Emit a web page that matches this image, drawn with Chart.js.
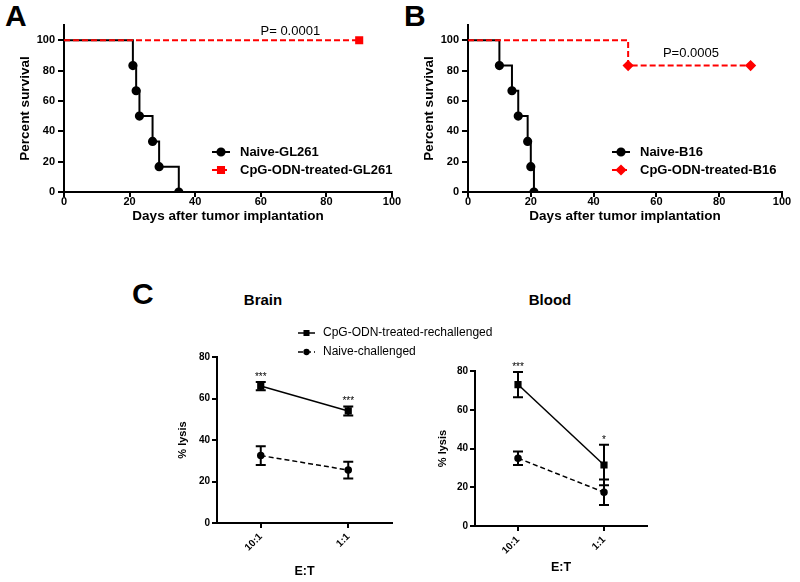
<!DOCTYPE html>
<html>
<head>
<meta charset="utf-8">
<script src="https://cdn.jsdelivr.net/npm/chart.js@4.4.1/dist/chart.umd.min.js"></script>
<style>
body { margin: 0; background: #fff; }
#page { position: relative; width: 800px; height: 582px; overflow: hidden; font-family: "Liberation Sans", Arial, sans-serif; }
canvas { position: absolute; }
.tag { position: absolute; font-weight: bold; font-size: 30px; line-height: 1; }
.ttl { position: absolute; width: 100px; text-align: center; font-weight: bold; font-size: 15px; line-height: 1; }
</style>
</head>
<body>
<div id="page">
  <div class="tag" style="left:5px;top:1px">A</div>
  <div class="tag" style="left:404px;top:1px">B</div>
  <div class="tag" style="left:132px;top:279px">C</div>
  <div class="ttl" style="left:213px;top:292px">Brain</div>
  <div class="ttl" style="left:500px;top:292px">Blood</div>
  <canvas id="chartA" width="410" height="240" style="left:0;top:0"></canvas>
  <canvas id="chartB" width="396" height="240" style="left:404px;top:0"></canvas>
  <canvas id="chartBrain" width="400" height="292" style="left:130px;top:290px"></canvas>
  <canvas id="chartBlood" width="270" height="292" style="left:390px;top:290px"></canvas>
</div>
<script>
// survival, panel A (GL261)
var glNaiveDays = [0, 21, 22, 23, 27, 29, 35];
var glNaive     = [100, 83.3, 66.7, 50, 33.3, 16.7, 0];
var glCpgDays   = [0, 90];
var glCpg       = [100, 100];
// survival, panel B (B16)
var b16NaiveDays = [0, 10, 14, 16, 19, 20, 21];
var b16Naive     = [100, 83.3, 66.7, 50, 33.3, 16.7, 0];
var b16CpgDays   = [0, 51, 90];
var b16Cpg       = [100, 83.3, 83.3];
// lysis, panel C
var ratios = ["10:1", "1:1"];
var brainCpg = [66, 54],   brainCpgErr = [2, 2.2];
var brainNaive = [32.5, 25.5], brainNaiveErr = [4.5, 4];
var bloodCpg = [73, 31.5], bloodCpgErr = [6.5, 10.5];
var bloodNaive = [35, 17.4], bloodNaiveErr = [3.5, 6.6];
var brainStars = ["***", "***"];
var bloodStars = ["***", "*"];

Chart.defaults.font.family = "'Liberation Sans', Arial, sans-serif";
Chart.defaults.color = "#000";

function pts(xs, ys) {
    return xs.map(function (x, i) { return { x: x, y: ys[i] }; });
}

// error bars, stars, free notes and an inside key
var extras = {
    id: "extras",
    afterDatasetsDraw: function (chart, args, opts) {
        var ctx = chart.ctx, ys = chart.scales.y, xs = chart.scales.x;
        ctx.save();
        chart.data.datasets.forEach(function (ds, di) {
            if (!ds.errors) return;
            var meta = chart.getDatasetMeta(di);
            ctx.strokeStyle = "#000";
            ctx.lineWidth = 2;
            ctx.setLineDash([]);
            meta.data.forEach(function (p, i) {
                var top = ys.getPixelForValue(ds.data[i] + ds.errors[i]),
                    bot = ys.getPixelForValue(ds.data[i] - ds.errors[i]);
                ctx.beginPath();
                ctx.moveTo(p.x, top); ctx.lineTo(p.x, bot);
                ctx.moveTo(p.x - 5, top); ctx.lineTo(p.x + 5, top);
                ctx.moveTo(p.x - 5, bot); ctx.lineTo(p.x + 5, bot);
                ctx.stroke();
                if (ds.stars) {
                    ctx.fillStyle = "#000";
                    ctx.font = "10px 'Liberation Sans', Arial";
                    ctx.textAlign = "center";
                    ctx.textBaseline = "alphabetic";
                    ctx.fillText(ds.stars[i], p.x, top - 2);
                }
            });
        });
        (opts.notes || []).forEach(function (n) {
            ctx.fillStyle = "#000";
            ctx.font = n.font;
            ctx.textAlign = "center";
            ctx.textBaseline = "middle";
            ctx.fillText(n.text, xs.getPixelForValue(n.x), ys.getPixelForValue(n.y));
        });
        var k = opts.key;
        if (k) {
            chart.data.datasets.forEach(function (ds, di) {
                var meta = chart.getDatasetMeta(di),
                    po = meta.data[meta.data.length - 1].options,
                    cy = k.y + di * k.dy;
                ctx.strokeStyle = ds.borderColor;
                ctx.lineWidth = ds.borderWidth;
                ctx.setLineDash(ds.borderDash || []);
                ctx.beginPath();
                ctx.moveTo(k.x, cy); ctx.lineTo(k.x + k.len, cy);
                ctx.stroke();
                ctx.setLineDash([]);
                ctx.fillStyle = po.backgroundColor;
                ctx.strokeStyle = po.borderColor;
                Chart.helpers.drawPoint(ctx, { pointStyle: po.pointStyle, radius: po.radius * k.shrink, rotation: 0, borderWidth: 1 }, k.x + k.len / 2, cy);
                ctx.fillStyle = "#000";
                ctx.font = k.font;
                ctx.textAlign = "left";
                ctx.textBaseline = "middle";
                ctx.fillText(ds.label, k.x + k.len + k.gap, cy);
            });
        }
        ctx.restore();
    }
};

function survivalScales() {
    return {
        x: {
            type: "linear", min: 0, max: 100,
            ticks: { stepSize: 20, font: { size: 11, weight: "bold" }, padding: -2 },
            grid: { drawOnChartArea: false, color: "#000", lineWidth: 2, tickLength: 5 },
            border: { color: "#000", width: 2 },
            title: { display: true, text: "Days after tumor implantation", font: { size: 13.5, weight: "bold" }, padding: { top: 0, bottom: 16 } },
            afterFit: function (s) { s.height = 48; }
        },
        y: {
            min: 0, max: 110,
            ticks: { stepSize: 20, includeBounds: false, font: { size: 11, weight: "bold" }, padding: 3 },
            grid: { drawOnChartArea: false, color: "#000", lineWidth: 2, tickLength: 6 },
            border: { color: "#000", width: 2 },
            title: { display: true, text: "Percent survival", font: { size: 13.5, weight: "bold" }, padding: { top: 17, bottom: 0 } },
            afterFit: function (s) { s.width = 64; }
        }
    };
}

function skipFirst(r) {
    return function (c) { return c.dataIndex === 0 ? 0 : r; };
}

new Chart(document.getElementById("chartA"), {
    type: "line",
    data: {
        datasets: [{
            label: "Naive-GL261",
            data: pts(glNaiveDays, glNaive),
            stepped: true, order: 1,
            borderColor: "#000", borderWidth: 2,
            pointStyle: "circle", pointRadius: skipFirst(3.6),
            pointBackgroundColor: "#000", pointBorderColor: "#000"
        }, {
            label: "CpG-ODN-treated-GL261",
            data: pts(glCpgDays, glCpg),
            stepped: true, order: 0,
            borderColor: "#ff0000", borderWidth: 2, borderDash: [6, 3],
            pointStyle: "rect", pointRadius: skipFirst(4.3),
            pointBackgroundColor: "#ff0000", pointBorderColor: "#ff0000"
        }]
    },
    options: {
        responsive: false, animation: false,
        layout: { padding: { top: 25, right: 18, left: 0, bottom: 0 } },
        scales: survivalScales(),
        plugins: {
            legend: { display: false }, tooltip: { enabled: false },
            extras: {
                notes: [{ text: "P= 0.0001", x: 69, y: 106, font: "13px 'Liberation Sans', Arial" }],
                key: { x: 212, y: 152, dy: 18, len: 18, gap: 10, shrink: 1, font: "bold 13px 'Liberation Sans', Arial" }
            }
        }
    },
    plugins: [extras]
});

new Chart(document.getElementById("chartB"), {
    type: "line",
    data: {
        datasets: [{
            label: "Naive-B16",
            data: pts(b16NaiveDays, b16Naive),
            stepped: true, order: 1,
            borderColor: "#000", borderWidth: 2,
            pointStyle: "circle", pointRadius: skipFirst(3.6),
            pointBackgroundColor: "#000", pointBorderColor: "#000"
        }, {
            label: "CpG-ODN-treated-B16",
            data: pts(b16CpgDays, b16Cpg),
            stepped: true, order: 0,
            borderColor: "#ff0000", borderWidth: 2, borderDash: [6, 3],
            pointStyle: "rectRot", pointRadius: skipFirst(4.2),
            pointBackgroundColor: "#ff0000", pointBorderColor: "#ff0000"
        }]
    },
    options: {
        responsive: false, animation: false,
        layout: { padding: { top: 25, right: 18, left: 0, bottom: 0 } },
        scales: survivalScales(),
        plugins: {
            legend: { display: false }, tooltip: { enabled: false },
            extras: {
                notes: [{ text: "P=0.0005", x: 71, y: 91.5, font: "13px 'Liberation Sans', Arial" }],
                key: { x: 208, y: 152, dy: 18, len: 18, gap: 10, shrink: 1, font: "bold 13px 'Liberation Sans', Arial" }
            }
        }
    },
    plugins: [extras]
});

function lysisScales(yw, xh, etPad) {
    return {
        x: {
            type: "category", offset: true,
            ticks: { minRotation: 45, maxRotation: 45, font: { size: 10, weight: "bold" }, padding: 3 },
            grid: { drawOnChartArea: false, color: "#000", lineWidth: 2, tickLength: 5 },
            border: { color: "#000", width: 2 },
            title: { display: true, text: "E:T", font: { size: 12.5, weight: "bold" }, padding: { top: 0, bottom: etPad } },
            afterFit: function (s) { s.height = xh; }
        },
        y: {
            min: 0, max: 80,
            ticks: { stepSize: 20, font: { size: 10, weight: "bold" }, padding: 2 },
            grid: { drawOnChartArea: false, color: "#000", lineWidth: 2, tickLength: 5 },
            border: { color: "#000", width: 2 },
            title: { display: true, text: "% lysis", font: { size: 11, weight: "bold" }, padding: { top: 46, bottom: 0 } },
            afterFit: function (s) { s.width = yw; }
        }
    };
}

function lysisSets(cpg, cpgErr, naive, naiveErr, stars) {
    return [{
        label: "CpG-ODN-treated-rechallenged",
        data: cpg, errors: cpgErr, stars: stars,
        borderColor: "#000", borderWidth: 1.5,
        pointStyle: "rect", pointRadius: 4,
        pointBackgroundColor: "#000", pointBorderColor: "#000"
    }, {
        label: "Naive-challenged",
        data: naive, errors: naiveErr,
        borderColor: "#000", borderWidth: 1.5, borderDash: [5, 3],
        pointStyle: "circle", pointRadius: 3,
        pointBackgroundColor: "#000", pointBorderColor: "#000"
    }];
}

new Chart(document.getElementById("chartBrain"), {
    type: "line",
    data: { labels: ratios, datasets: lysisSets(brainCpg, brainCpgErr, brainNaive, brainNaiveErr, brainStars) },
    options: {
        responsive: false, animation: false,
        layout: { padding: { top: 67, right: 138, left: 0, bottom: 0 } },
        scales: lysisScales(87, 59, 2.5),
        plugins: {
            legend: { display: false }, tooltip: { enabled: false },
            extras: {
                key: { x: 168, y: 43, dy: 19, len: 17, gap: 8, shrink: 0.8, font: "12px 'Liberation Sans', Arial" }
            }
        }
    },
    plugins: [extras]
});

new Chart(document.getElementById("chartBlood"), {
    type: "line",
    data: { labels: ratios, datasets: lysisSets(bloodCpg, bloodCpgErr, bloodNaive, bloodNaiveErr, bloodStars) },
    options: {
        responsive: false, animation: false,
        layout: { padding: { top: 81, right: 13, left: 0, bottom: 0 } },
        scales: lysisScales(85, 56, 6.5),
        plugins: { legend: { display: false }, tooltip: { enabled: false }, extras: {} }
    },
    plugins: [extras]
});
</script>
</body>
</html>
